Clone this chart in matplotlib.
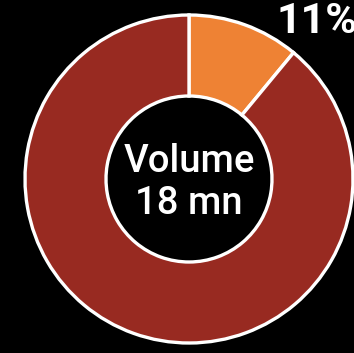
import matplotlib.pyplot as plt

# share of volume by segment
labels = ["Segment A", "Rest"]
shares = [11, 89]
colors = ["#EE8234", "#982A21"]
center_title = "Volume"
center_value = "18 mn"

plt.rcParams["font.family"] = ["Roboto", "DejaVu Sans"]

fig = plt.figure(figsize=(3.54, 3.53), dpi=100, facecolor="black")
ax = fig.add_axes([0, 0, 1, 1])
ax.set_facecolor("black")

cx, cy = 189, 174
r_out, r_in = 164, 83

ax.pie(shares, colors=colors, startangle=90, counterclock=False,
       center=(cx, cy), radius=r_out, frame=True,
       wedgeprops=dict(width=r_out - r_in, edgecolor="white", linewidth=2.4))
ax.set_xlim(0, 354)
ax.set_ylim(0, 353)
ax.set_aspect("equal")
ax.axis("off")

ax.text(cx, cy + 18, center_title, color="white", fontsize=27.5,
        fontweight="medium", ha="center", va="center")
ax.text(cx, cy - 25, center_value, color="white", fontsize=27.5,
        fontweight="medium", ha="center", va="center")

ax.text(277, 352, f"{shares[0]}%", color="white", fontsize=31,
        fontweight="bold", ha="left", va="top")

fig.savefig("out.png", dpi=100, facecolor="black")
